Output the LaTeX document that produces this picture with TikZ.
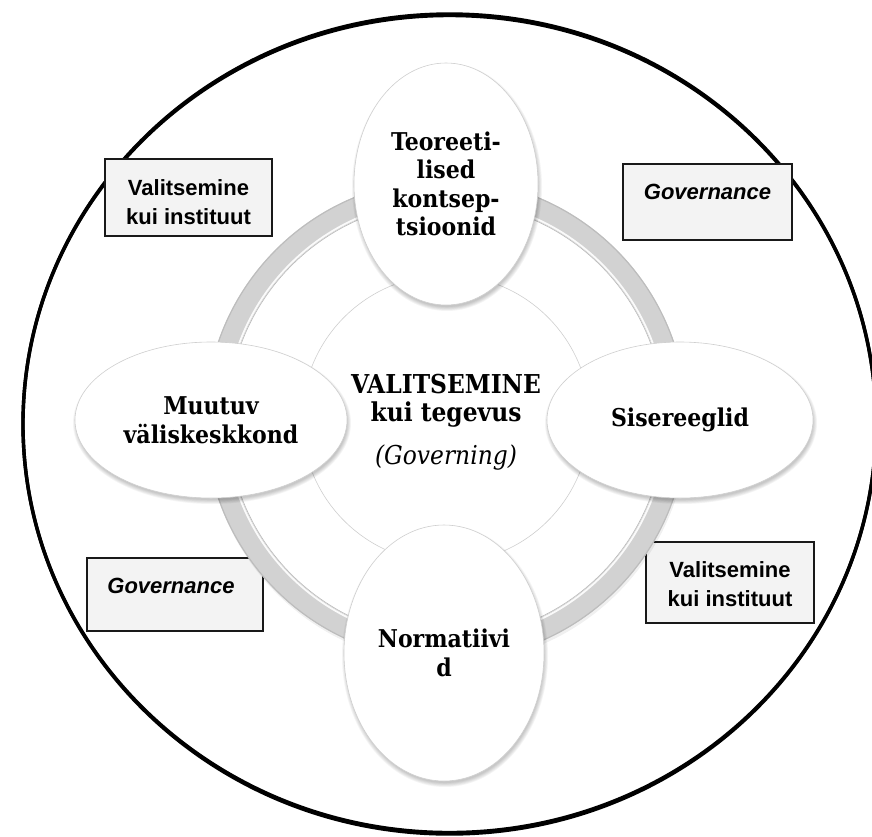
\documentclass[tikz,border=0pt]{standalone}
\usepackage{fontspec}
\setmainfont{DejaVu Serif Condensed}
\newfontfamily\boxfont{Liberation Sans}
\usetikzlibrary{shapes.geometric}
\definecolor{ringgray}{HTML}{D2D2D2}
\definecolor{ringedge}{HTML}{BDBDBD}
\definecolor{boxfill}{HTML}{F3F3F3}
\definecolor{softline}{HTML}{CFCFCF}
\tikzset{
  petal/.style={ellipse, draw=softline, line width=0.6pt, fill=white,
    inner sep=0pt, align=center, font=\bfseries\fontsize{24.5}{28.5}\selectfont},
  labelbox/.style={rectangle, draw=black!90, line width=1.8pt, fill=boxfill,
    inner sep=0pt},
  boxtxt/.style={anchor=base, inner sep=0pt,
    font=\boxfont\bfseries\fontsize{22}{29}\selectfont},
}
% soft shadow under an ellipse: centre, x radius, y radius
\newcommand\petalshadow[4]{%
  \foreach \k in {0,1,...,5}{%
    \fill[black, opacity=0.04] (#1+1,#2+3) ellipse
      [x radius={#3+\k*0.8-1}, y radius={#4+\k*0.8-1}];}}
\begin{document}
\begin{tikzpicture}[x=1pt,y=-1pt]
\useasboundingbox (0,0) rectangle (872,836);

% outer boundary, a little heavier at top and bottom
\draw[line width=3.4pt] (449.5,424) ellipse [x radius=426.5, y radius=408.5];
\draw[line width=3.4pt] (449.5,424) ellipse [x radius=426.5, y radius=410];

% label boxes
\node[labelbox, minimum width=167pt, minimum height=77pt] (bTL) at (188.5,197.5) {};
\node[labelbox, minimum width=169pt, minimum height=76pt] (bTR) at (707.5,202) {};
\node[labelbox, minimum width=176pt, minimum height=73pt] (bBL) at (175,594.5) {};
\node[labelbox, minimum width=168pt, minimum height=81pt] (bBR) at (730,582.5) {};

\node[boxtxt] (tTL1) at (188.5,195) {Valitsemine};
\node[boxtxt] (tTL2) at (188.5,224) {kui instituut};
\node[boxtxt] (tTR1) at (707.5,199) {\itshape Governance};
\node[boxtxt] (tBL1) at (171,593) {\itshape Governance};
\node[boxtxt] (tBR1) at (730,577) {Valitsemine};
\node[boxtxt] (tBR2) at (730,606) {kui instituut};

% grey ring with a faint shadow and bevel lines
\draw[black, opacity=0.06, line width=6pt] (447,423) circle [radius=238];
\draw[ringgray, line width=22pt] (446,420) circle [radius=230];
\draw[ringedge, line width=1.2pt] (446,420) circle [radius=240.5];
\draw[white, opacity=0.9, line width=1.8pt] (446,420) circle [radius=220.5];
\draw[black!28, line width=0.6pt] (446,420) circle [radius=218.5];

% central circle
\node[circle, draw=softline, line width=0.6pt, fill=white, minimum size=288pt,
  inner sep=0pt] (core) at (446,419) {};
\node[align=center, inner sep=0pt,
  font=\bfseries\fontsize{26}{28}\selectfont] (coretxt) at (446,422)
  {VALITSEMINE\\kui tegevus\\[15pt]\mdseries\itshape\fontsize{26}{28}\selectfont (Governing)};

% satellite ellipses
\petalshadow{446}{184}{92}{121}
\node[petal, minimum width=184pt, minimum height=242pt] (top) at (446,184)
  {Teoreeti-\\lised\\kontsep-\\tsioonid};
\petalshadow{211}{420}{136}{78}
\node[petal, minimum width=272pt, minimum height=156pt] (left) at (211,420)
  {Muutuv\\väliskeskkond};
\petalshadow{680}{420}{133}{78}
\node[petal, minimum width=266pt, minimum height=156pt] (right) at (680,420)
  {Sisereeglid};
\petalshadow{444}{653}{100}{128}
\node[petal, minimum width=200pt, minimum height=256pt] (bottom) at (444,653)
  {Normatiivi\\d};
\end{tikzpicture}
\end{document}
